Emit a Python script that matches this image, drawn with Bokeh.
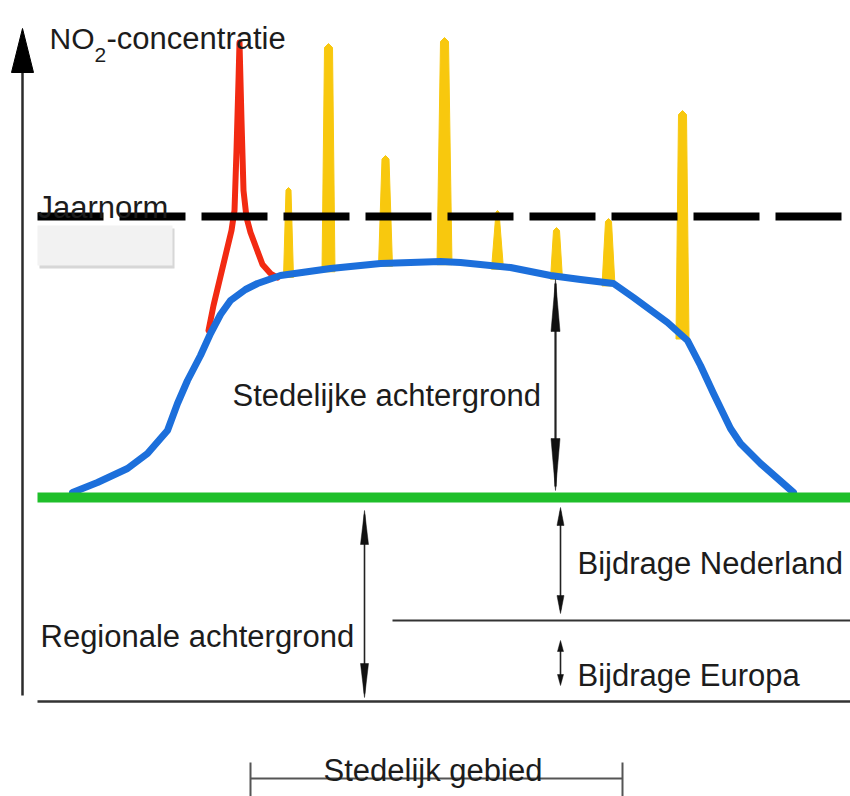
import numpy as np
from bokeh.plotting import figure
from bokeh.models import Range1d
from bokeh.core.properties import value
from bokeh.embed import file_html
from bokeh.resources import INLINE

# ---------------- data (schematic units: x across the area, y = drawing level, grows downward) -------------
urban_x = [72, 97, 127, 147, 167, 177, 187, 200, 210, 220, 230, 245, 257, 280, 330, 380, 440, 460, 510,
           550, 580, 613, 633, 667, 687, 700, 713, 730, 740, 760, 793]
urban_y = [492, 482, 468, 453, 430, 403, 380, 355, 333, 314, 300, 289, 283, 275, 268, 263, 261, 262, 267,
           275, 279, 283, 297, 322, 340, 365, 393, 428, 443, 463, 492]

street_x = [208, 213, 219, 225, 231, 234, 236, 238, 239, 241, 243, 246, 250, 256, 262, 270, 277]
street_y = [330, 305, 280, 255, 230, 210, 150, 80, 42, 120, 190, 217, 232, 248, 264, 273, 277]

spike_x = [288, 328, 385, 444, 497, 556, 608, 682]
spike_top = [187, 43, 155, 37, 210, 227, 218, 110]

norm_level = 216
regional_level = 497
zero_level = 701
split_level = 620
axis_top = 28

city_start, city_end = 250, 622

arrow_x = [555, 364, 560, 560]
arrow_from = [279, 510, 507, 640]
arrow_to = [490, 697, 613, 685]

# ---------------- styles ----------------
W, H = 850, 796
FONT = "Liberation Sans"
TXT = "#1c1c1c"
BLUE = "#1C6FDB"
GREEN = "#1FBF2A"
RED = "#F22A12"
YELLOW = "#F8C80E"

spike_wb = [10, 13, 14, 15, 12, 12, 13, 13]
spike_wt = [5, 8, 7, 8, 3, 6, 6, 8]
head_len = [52, 34, 18, 11]
head_w = [9, 8, 7, 6]
arrow_lw = [2.2, 1.6, 1.6, 1.6]


p = figure(width=W, height=H, output_backend="svg", toolbar_location=None,
           x_range=Range1d(0, 850), y_range=Range1d(796, 0),
           x_axis_location=None, y_axis_location=None, min_border=0,
           background_fill_color="white", border_fill_color="white")
p.outline_line_color = None
p.grid.visible = False

# vertical concentration axis
p.line([22, 22], [axis_top + 30, 695], line_color="#2b2b2b", line_width=2.5)
p.patch([22, 11, 33], [axis_top, axis_top + 44, axis_top + 44], fill_color="black", line_color="black")

# bottom zero line
p.line([37, 850], [zero_level, zero_level], line_color="#333333", line_width=2.5)

# split line between NL and EU contributions
p.line([392, 850], [split_level, split_level], line_color="#333333", line_width=1.8)

# yellow spikes (street contributions), base on the urban curve
spike_base = np.interp(spike_x, urban_x, urban_y) + 3
xs, ys = [], []
for x, t, b, wb, wt in zip(spike_x, spike_top, spike_base, spike_wb, spike_wt):
    xs.append([x - wb / 2, x - wt / 2, x, x + wt / 2, x + wb / 2])
    ys.append([b, t + wt / 2, t, t + wt / 2, b])
p.patches(xs, ys, fill_color=YELLOW, line_color=YELLOW, line_width=1)

# red street peak
p.line(street_x, street_y, line_color=RED, line_width=6, line_join="round", line_cap="round")

# blue urban background
p.line(urban_x, urban_y, line_color=BLUE, line_width=7, line_join="round", line_cap="round")

# green regional background
p.line([37, 850], [regional_level, regional_level], line_color=GREEN, line_width=10)

# annual norm dashed line
p.line([37, 842], [norm_level, norm_level], line_color="black", line_width=8, line_dash="66 16")

# grey box under Jaarnorm
p.quad(left=[39], right=[174], top=[228], bottom=[268], fill_color="#bdbdbd", fill_alpha=0.6, line_color=None)
p.quad(left=[37], right=[172], top=[225], bottom=[265], fill_color="#f2f2f2", line_color=None)

# double arrows
for x, a, b, L, w, lw in zip(arrow_x, arrow_from, arrow_to, head_len, head_w, arrow_lw):
    p.line([x, x], [a + 4, b - 4], line_color="#222222", line_width=lw)
    p.patches([[x, x - w / 2, x + w / 2], [x, x - w / 2, x + w / 2]],
              [[a, a + L, a + L], [b, b - L, b - L]], fill_color="#111111", line_color="#111111", line_width=0.5)

# city area bracket
p.line([city_start, city_end], [778, 778], line_color="#555555", line_width=2)
p.line([city_start, city_start], [762, 796], line_color="#555555", line_width=2)
p.line([city_end, city_end], [762, 796], line_color="#555555", line_width=2)

# texts
def label(x, y, t, size=31, color=TXT):
    p.text(x=[x], y=[y], text=[t], text_font=value(FONT), text_font_size=f"{size}px",
           text_color=color, text_baseline="alphabetic", text_align="left")

label(49, 38, "NO", 30)
label(94, 54, "2", 21)
label(106, 38, "-concentratie", 31)
label(37, 207, "Jaarnorm", 31)
label(232, 395, "Stedelijke achtergrond", 31)
label(40, 636, "Regionale achtergrond", 31)
label(577, 563, "Bijdrage Nederland", 31)
label(577, 675, "Bijdrage Europa", 31)
label(323, 770, "Stedelijk gebied", 31)

open("out.html", "w").write(file_html(p, INLINE))
